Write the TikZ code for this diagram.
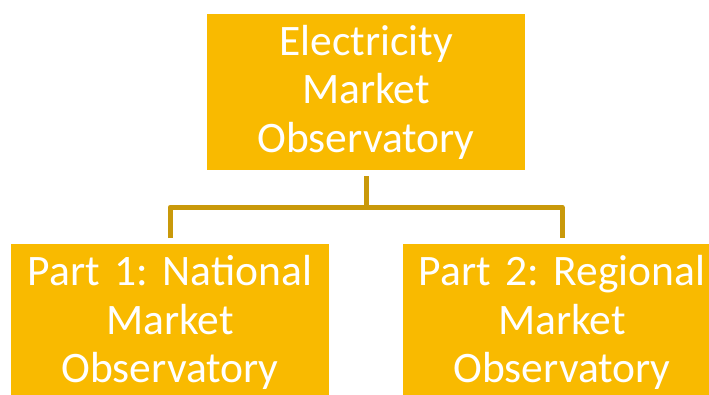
\documentclass[tikz,border=0pt]{standalone}
\usepackage{fontspec}
\setmainfont{Carlito}
\usetikzlibrary{positioning}

\definecolor{boxfill}{RGB}{249,186,0}
\definecolor{linkcol}{RGB}{201,153,10}

\tikzset{
    obsbox/.style={fill=boxfill, text=white, inner sep=0pt,
        minimum width=318pt, minimum height=156pt, text width=318pt,
        align=center, font=\fontsize{43.5}{48.5}\selectfont\frenchspacing},
    link/.style={draw=linkcol, line width=5pt, line join=round}
}

\begin{document}
\begin{tikzpicture}[x=1pt,y=1pt]
    \def\xs{196pt} % horizontal offset of the two parts
    \def\gap{6pt}  % space between a line end and its box
    \useasboundingbox (0,0) rectangle (709,-394);

    \node[obsbox] (eo) at (366,-92) {Electricity\\Market\\Observatory};
    \node[obsbox, below=74pt of eo, xshift=-\xs] (part1) {Part 1: National\\Market\\Observatory};
    \node[obsbox, below=74pt of eo, xshift=\xs] (part2) {Part 2: Regional\\Market\\Observatory};

    % fork between the main box and its two parts
    \draw[link] ([yshift=-\gap]eo.south) -- ([yshift=-37pt]eo.south);
    \draw[link] ([yshift=\gap]part1.north) |- ([yshift=-37pt]eo.south)
        -| ([yshift=\gap]part2.north);
\end{tikzpicture}
\end{document}
